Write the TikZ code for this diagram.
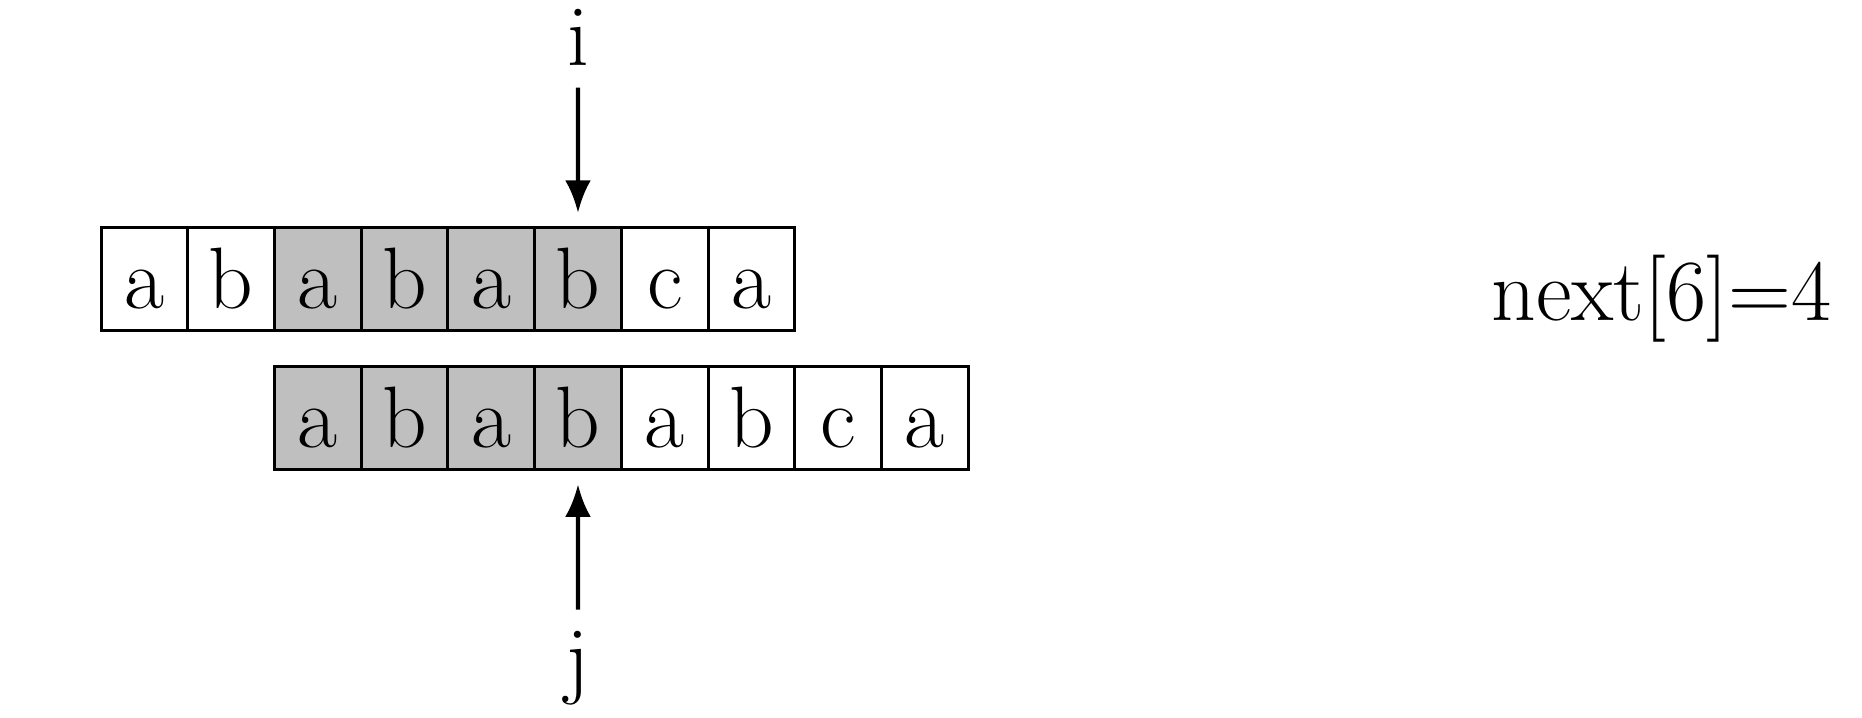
\documentclass[tikz,border=0pt]{standalone}
\usepackage{tikz}
\usepackage{xcolor}
\usetikzlibrary{arrows.meta}
\newcommand{\cellfont}{\fontsize{22.9}{28}\selectfont}
\tikzset{
    cell/.style = {draw, thick, rectangle, minimum width=0.8cm, minimum height=0.95cm, inner sep=0pt, outer sep=0pt, text height=15.5pt, text depth=0pt, font=\cellfont},
    cell-shaded/.style = {cell, fill=lightgray},
    pointer-label/.style = {font=\cellfont, inner sep=5.5pt, anchor=base},
    pointer-arrow/.style = {line width=1.1pt, -{Latex[length=8.5pt, width=6.8pt]}, shorten >=4pt},
}
\begin{document}
\begin{tikzpicture}
\useasboundingbox (-0.932,-4.045) rectangle (16.245,2.578);
\foreach \ch/\sty [count=\k from 0] in {a/cell, b/cell, a/cell-shaded, b/cell-shaded, a/cell-shaded, b/cell-shaded, c/cell, a/cell}
    \node[\sty] (top-\k) at (0.4+0.8*\k, 0) {\ch};
\foreach \ch/\sty [count=\k from 0] in {a/cell-shaded, b/cell-shaded, a/cell-shaded, b/cell-shaded, a/cell, b/cell, c/cell, a/cell}
    \node[\sty] (bot-\k) at (2.0+0.8*\k, -1.276) {\ch};
\node[pointer-label] (i) at (4.4, 1.97) {i};
\node[pointer-label] (j) at (4.4, -3.766) {j};
\draw[pointer-arrow] (i) -- (top-5);
\draw[pointer-arrow] (j) -- (bot-3);
\node[font=\cellfont, inner sep=0pt, anchor=base west] (next) at (12.82, -0.383) {next[6]=4};
\end{tikzpicture}
\end{document}
